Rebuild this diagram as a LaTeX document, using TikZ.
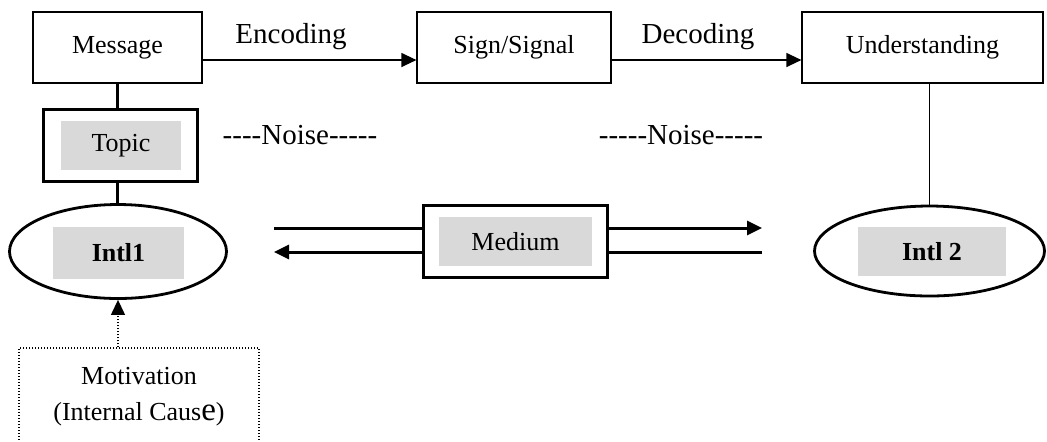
\documentclass[tikz,border=0pt]{standalone}
\usepackage{fontspec}
\setmainfont{Liberation Serif}[Ligatures=TeXOff]
\usetikzlibrary{arrows.meta,shapes.geometric}
\definecolor{shade}{RGB}{217,217,217}
\begin{document}
\begin{tikzpicture}[x=0.5pt,y=-0.5pt,
  box/.style={draw,line width=0.6pt,inner sep=0pt,font=\fontsize{13}{15}\selectfont},
  thickbox/.style={draw,line width=1.5pt,inner sep=0pt},
  graybox/.style={fill=shade,inner sep=0pt,font=\fontsize{13}{15}\selectfont},
  oval/.style={draw,ellipse,line width=1.4pt,inner sep=0pt},
  lbl/.style={font=\fontsize{14.5}{16}\selectfont,inner sep=0pt},
  tip/.style={-{Triangle[length=7.5pt,width=7pt]}},
  thinline/.style={line width=0.6pt},
  thkline/.style={line width=1.5pt},
  dots/.style={line width=0.6pt,dash pattern=on 0.6pt off 0.9pt}]
\useasboundingbox (0,0) rectangle (1047,441);
\clip (0,0) rectangle (1047,441);
% top row
\node[box,minimum width=84.5pt,minimum height=35.5pt] (msg) at (117.5,47.5) {Message};
\node[box,minimum width=97pt,minimum height=35.5pt] (sign) at (514,47.5) {Sign/Signal};
\node[box,minimum width=120.5pt,minimum height=35.5pt] (und) at (922.5,47.5) {Understanding};
\node[lbl] (enc) at (291,37) {Encoding};
\node[lbl] (dec) at (698,37) {Decoding};
\draw[thinline,tip] ([yshift=-6.25pt]msg.east) -- ([yshift=-6.25pt]sign.west);
\draw[thinline,tip] ([yshift=-6.25pt]sign.east) -- ([yshift=-6.25pt]und.west);
% topic
\node[thickbox,minimum width=77pt,minimum height=36pt] (topicbox) at (120.5,145.5) {};
\node[graybox,minimum width=60pt,minimum height=24.5pt] (topic) at (121,145.5) {Topic};
% noise
\node[lbl] (noise1) at (300,135) {----Noise-----};
\node[lbl] (noise2) at (681,135) {-----Noise-----};
% intl1
\node[oval,minimum width=108.5pt,minimum height=47pt] (i1) at (118,251.5) {};
\node[graybox,font=\fontsize{13}{15}\selectfont\bfseries,minimum width=65.5pt,minimum height=26pt] (i1t) at (118.5,253) {Intl1};
% intl2
\node[oval,minimum width=115pt,minimum height=45pt] (i2) at (929.5,251) {};
\node[graybox,font=\fontsize{13}{15}\selectfont\bfseries,minimum width=74pt,minimum height=24.5pt] (i2t) at (932,251.5) {Intl 2};
% medium
\node[thickbox,minimum width=92pt,minimum height=36pt] (medbox) at (515.5,241) {};
\node[graybox,minimum width=76.5pt,minimum height=24.5pt] (med) at (515.5,241.5) {Medium};
% motivation
\node[draw,dots,minimum width=120pt,minimum height=61pt,inner sep=0pt] (mot) at (139,409) {};
\node[font=\fontsize{13}{18}\selectfont,align=center,inner sep=0pt] (mottext) at (139,397) {Motivation\\(Internal Caus{\fontsize{16.5}{18}\selectfont e})};
% connectors
\draw[thkline] (msg.south) -- (msg.south |- topicbox.north);
\draw[thkline] (topicbox.south -| msg.south) -- (i1.north -| msg.south);
\draw[thinline] (i2.north |- und.south) -- (i2.north);
\draw[dots,tip] (i1.south |- mot.north) -- (i1.south);
\coordinate (lt) at (274,228);
\coordinate (rt) at (762,228);
\coordinate (lb) at (274,252);
\coordinate (rb) at (762,252);
\draw[thkline] (lt) -- (lt -| medbox.west);
\draw[thkline,tip] (rt -| medbox.east) -- (rt);
\draw[thkline,tip] (lb -| medbox.west) -- (lb);
\draw[thkline] (rb -| medbox.east) -- (rb);
\end{tikzpicture}
\end{document}
